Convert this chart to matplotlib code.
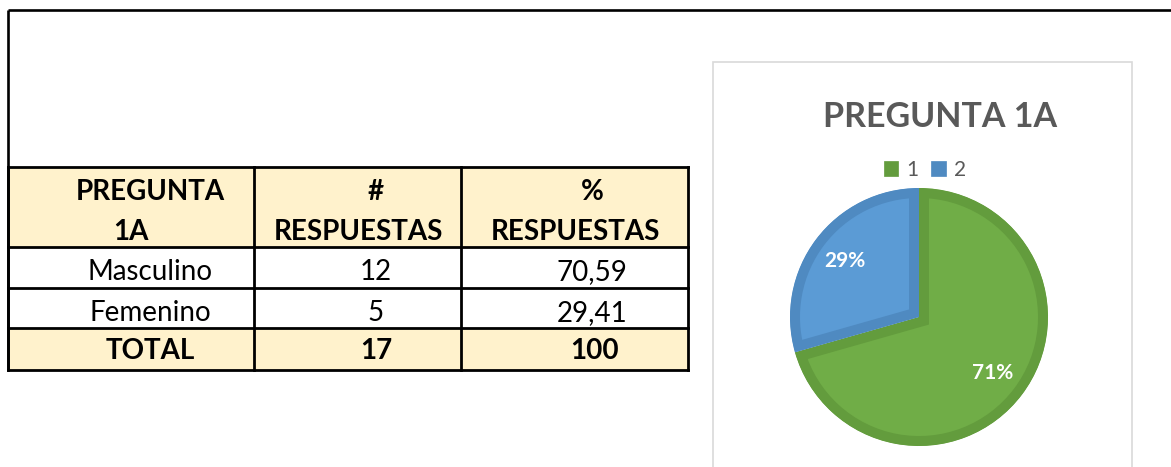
import matplotlib
matplotlib.use("Agg")
import matplotlib.pyplot as plt
from matplotlib.patches import Rectangle, Patch, Wedge

plt.rcParams['font.family'] = ['Lato', 'DejaVu Sans']

# ---- data ----
categories = ["Masculino", "Femenino"]
counts = [12, 5]
percents = ["70,59", "29,41"]
total_count = 17
total_pct = "100"
header_top = ["PREGUNTA", "#", "%"]
header_bottom = ["1A", "RESPUESTAS", "RESPUESTAS"]
pie_labels = ["1", "2"]
chart_title = "PREGUNTA 1A"

W, H = 1171, 467
fig = plt.figure(figsize=(W / 100, H / 100), dpi=100)
ax = fig.add_axes([0, 0, 1, 1])
ax.set_xlim(0, W)
ax.set_ylim(H, 0)
ax.axis('off')

# outer frame lines
ax.plot([8, W], [10, 10], color='black', lw=1.9, solid_capstyle='butt')
ax.plot([8, 8], [10, 370], color='black', lw=1.9, solid_capstyle='butt')

# table geometry
col_x = [8, 254, 461, 688]
row_y = [167, 247, 288, 328, 370]
header_fill = '#FFF2CC'

ax.add_patch(Rectangle((col_x[0], row_y[0]), col_x[3] - col_x[0], row_y[1] - row_y[0],
                       facecolor=header_fill, edgecolor='none'))
ax.add_patch(Rectangle((col_x[0], row_y[3]), col_x[3] - col_x[0], row_y[4] - row_y[3],
                       facecolor=header_fill, edgecolor='none'))
for y in row_y:
    ax.plot([col_x[0], col_x[3]], [y, y], color='black', lw=2.0, solid_capstyle='projecting')
for x in col_x:
    ax.plot([x, x], [row_y[0], row_y[4]], color='black', lw=2.0, solid_capstyle='projecting')

fsb = 20
fsr = 20
# header
top_x = [150, 376, 592]
bot_x = [131, 358, 575]
for t, x in zip(header_top, top_x):
    ax.text(x, 200, t, ha='center', va='baseline', fontsize=fsb, fontweight='bold', color='black')
for t, x in zip(header_bottom, bot_x):
    ax.text(x, 240, t, ha='center', va='baseline', fontsize=fsb, fontweight='bold', color='black')

# body rows
baselines = [280, 321]
for yb, cat, c, p in zip(baselines, categories, counts, percents):
    ax.text(150, yb, cat, ha='center', va='baseline', fontsize=fsr, color='black')
    ax.text(376, yb, str(c), ha='center', va='baseline', fontsize=fsr, color='black')
    ax.text(592, yb, p, ha='center', va='baseline', fontsize=fsr, color='black')

ax.text(150, 359, "TOTAL", ha='center', va='baseline', fontsize=fsb, fontweight='bold', color='black')
ax.text(376, 359, str(total_count), ha='center', va='baseline', fontsize=fsb, fontweight='bold', color='black')
ax.text(595, 359, total_pct, ha='center', va='baseline', fontsize=fsb, fontweight='bold', color='black')

# chart panel border
ax.add_patch(Rectangle((713, 62), 1132 - 713, H + 10 - 62, facecolor='white',
                       edgecolor='#D9D9D9', lw=1.2))
ax.text(940, 127, chart_title, ha='center', va='baseline', fontsize=24.5, fontweight='bold',
        color='#595959')

# pie
fills = ['#70AD47', '#5B9BD5']
edges = ['#639C3D', '#4F8AC1']
cx, cy, r = 919, 317, 129
pax = fig.add_axes([(cx - r) / W, (H - cy - r) / H, 2 * r / W, 2 * r / H])
wedges, texts, autotexts = pax.pie(counts, colors=fills, startangle=90, counterclock=False,
                                   autopct='%1.0f%%', pctdistance=0.72,
                                   wedgeprops=dict(linewidth=14.4),
                                   textprops=dict(color='white', fontsize=15, fontweight='bold'))
pax.set_xlim(-1, 1)
pax.set_ylim(-1, 1)
pax.set_aspect('auto')
pax.axis('off')
for w, ec in zip(wedges, edges):
    w.set_edgecolor(ec)
    clip = Wedge(w.center, w.r, w.theta1, w.theta2, transform=pax.transData)
    w.set_clip_on(True)
    w.set_clip_box(None)
    w.set_clip_path(clip)

handles = [Patch(facecolor=e, edgecolor=e, lw=0.5) for e in edges]
fig.legend(handles, pie_labels, loc='center', bbox_to_anchor=(925 / W, 1 - 170 / H),
           ncol=2, frameon=False, fontsize=15, labelcolor='#595959',
           handlelength=0.7, handleheight=0.7, handletextpad=0.4, columnspacing=0.6,
           borderpad=0)

fig.savefig('out.png', dpi=100)
